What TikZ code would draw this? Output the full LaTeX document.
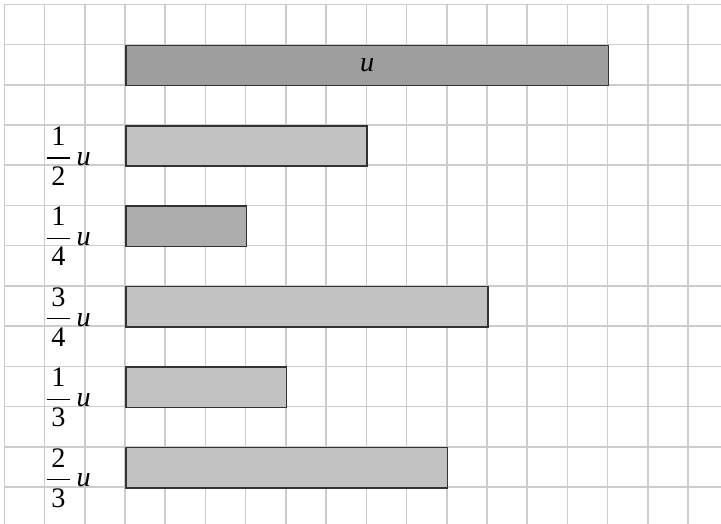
\documentclass[tikz,border=0pt]{standalone}
\usepackage{amsmath}
\usepackage{fontspec}
\setmainfont{Liberation Serif}
\usepackage{tikz}
\usetikzlibrary{positioning}
\definecolor{gridgray}{gray}{0.8}
\definecolor{bardark}{gray}{0.62}
\definecolor{barmid}{gray}{0.68}
\definecolor{barlight}{gray}{0.76}
\definecolor{barline}{gray}{0.2}
\newcommand{\partfrac}[2]{$\dfrac{\text{\,#1\,}}{\text{\,#2\,}}$\,\textit{u}}

\begin{document}
\begin{tikzpicture}[
    bar/.style={draw=barline, line width=1.1pt, inner sep=0pt, minimum height=1cm, anchor=north west},
    frac/.style={inner sep=0pt, anchor=base west, font=\fontsize{20}{24}\selectfont}
  ]
            \useasboundingbox (-0.11,0.11) rectangle (17.82,-12.92);
            \fill[white] (-0.11,0.11) rectangle (17.82,-12.92);
            \draw[gridgray, line width=1.1pt] (0,-12.92) grid (17.82,0);
            % the whole
            \node[bar, fill=bardark, minimum width=12cm, font=\fontsize{20}{24}\selectfont] (whole) at (3,-1) {\textit{u}};
            % the parts
            \node[bar, fill=barlight, minimum width=6cm] (half) at (3,-3) {};
            \node[frac] (halflbl) at (1.0,-4) {\partfrac{1}{2}};
            \node[bar, fill=barmid, minimum width=3cm] (quarter) at (3,-5) {};
            \node[frac] (quarterlbl) at (1.0,-6) {\partfrac{1}{4}};
            \node[bar, fill=barlight, minimum width=9cm] (threeq) at (3,-7) {};
            \node[frac] (threeqlbl) at (1.0,-8) {\partfrac{3}{4}};
            \node[bar, fill=barlight, minimum width=4cm] (third) at (3,-9) {};
            \node[frac] (thirdlbl) at (1.0,-10) {\partfrac{1}{3}};
            \node[bar, fill=barlight, minimum width=8cm] (twothirds) at (3,-11) {};
            \node[frac] (twothirdslbl) at (1.0,-12) {\partfrac{2}{3}};
\end{tikzpicture}
\end{document}
